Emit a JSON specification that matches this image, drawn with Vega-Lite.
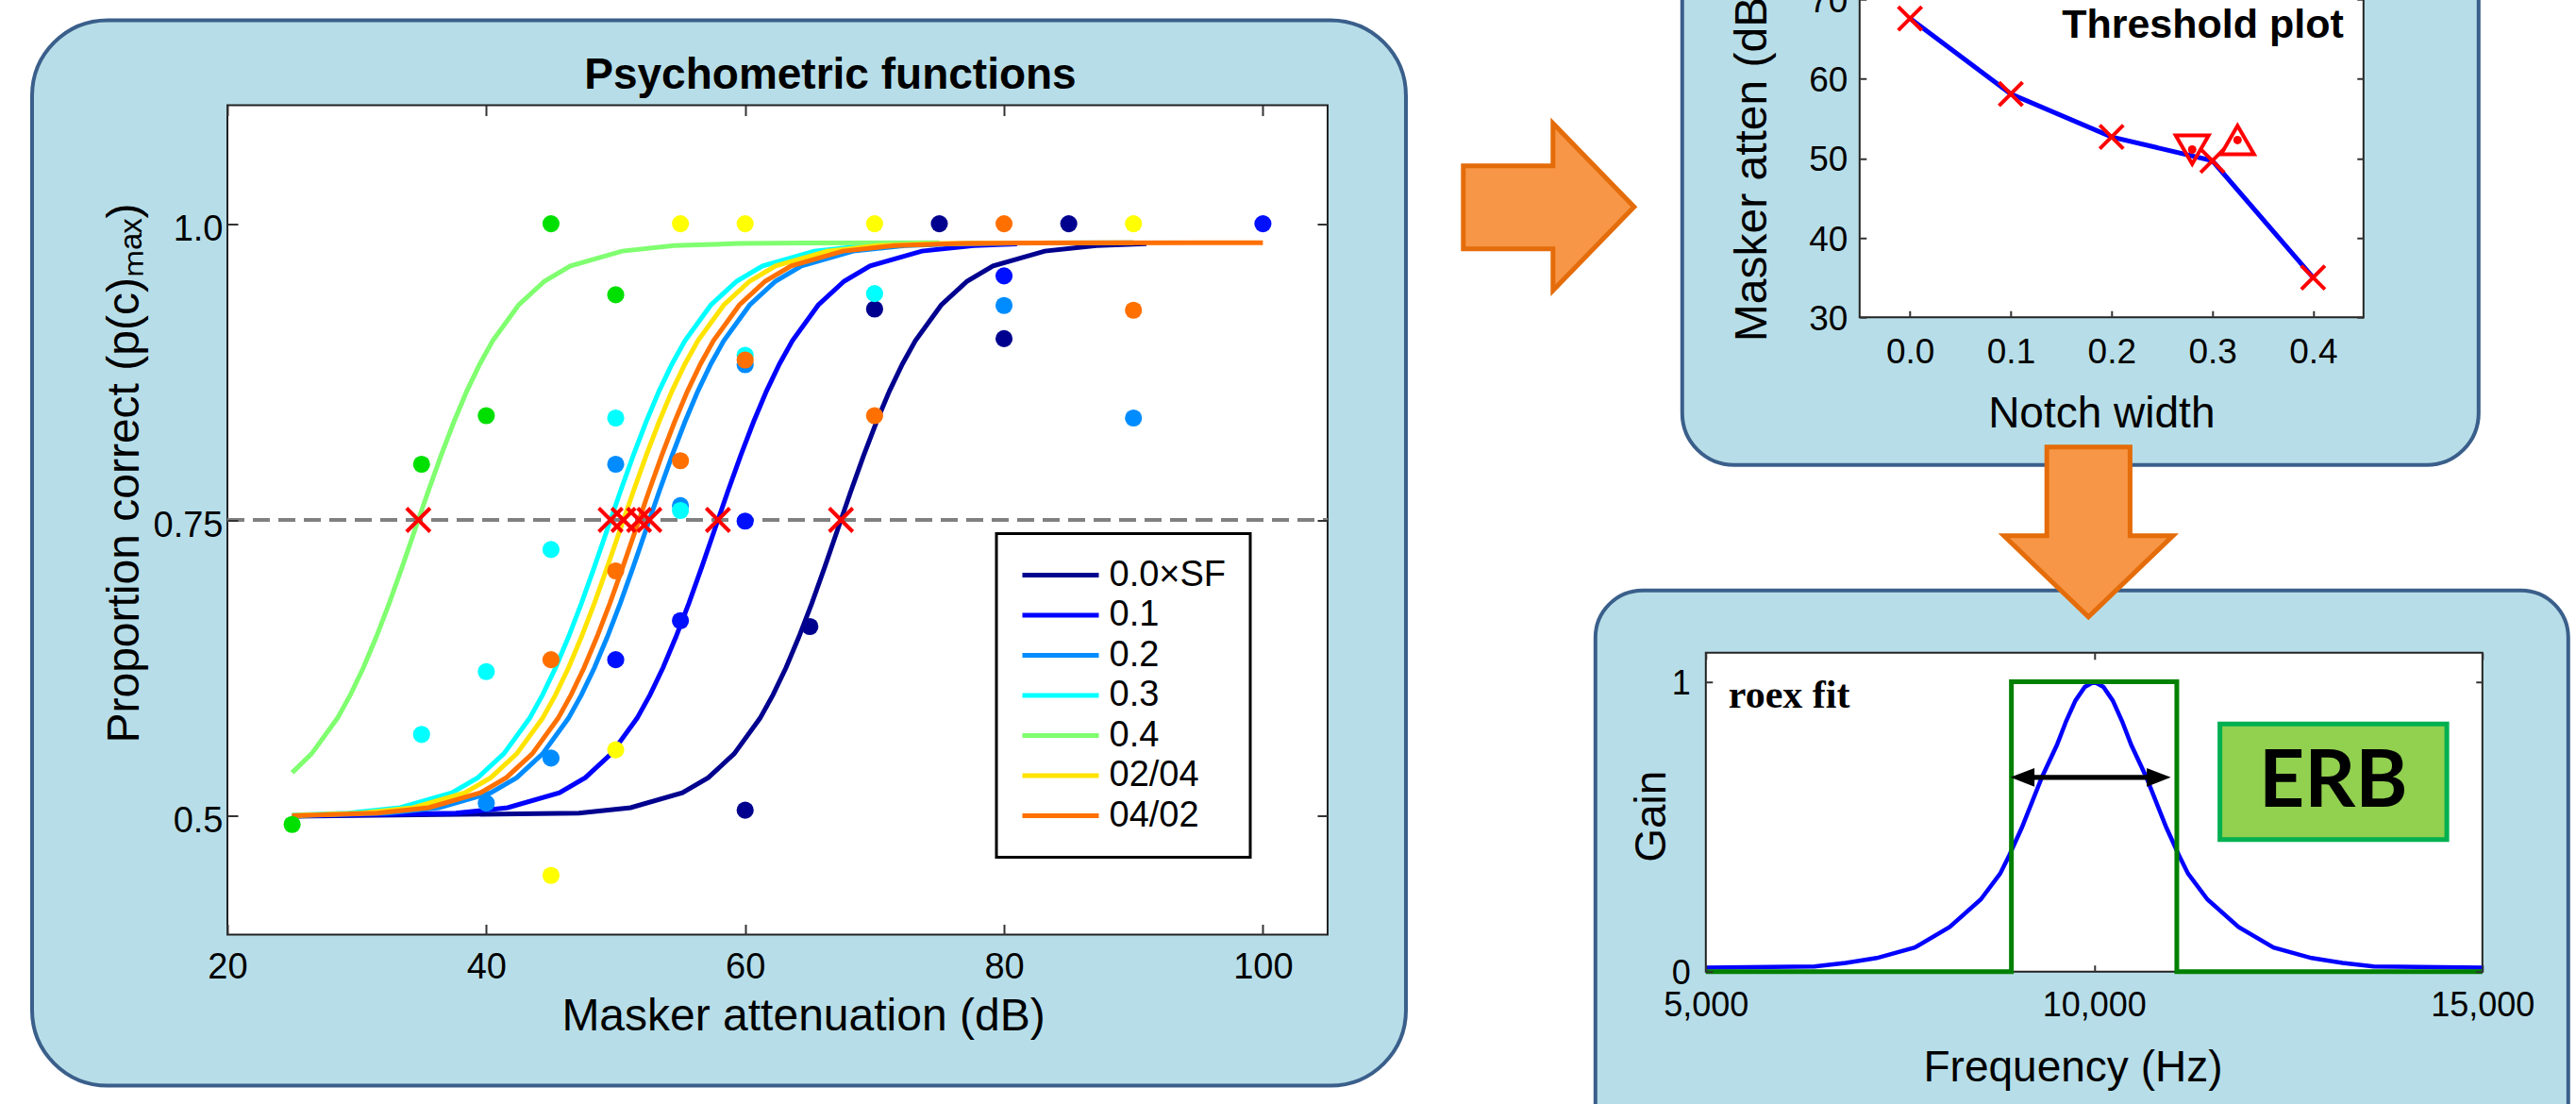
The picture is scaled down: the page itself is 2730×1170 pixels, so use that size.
{
  "$schema": "https://vega.github.io/schema/vega-lite/v6.json",
  "background": "white",
  "padding": {"left": 32, "top": -102, "right": 0, "bottom": 0},
  "bounds": "full",
  "center": true,
  "spacing": 47.8,
  "config": {
    "font": "Liberation Sans",
    "view": {"stroke": null},
    "axis": {"grid": false, "domain": false, "zindex": 1, "labelColor": "#000000", "titleColor": "#000000", "titleFontWeight": "normal", "tickColor": "#333333", "tickWidth": 2, "labelFlush": false, "labelOverlap": false, "labelFont": "Liberation Sans", "titleFont": "Liberation Sans"},
    "legend": {"strokeWidth": 3}
  },
  "datasets": {
    "curves": [
      {"cond":"0.0×SF","dB":25,"p":0.5},{"cond":"0.0×SF","dB":47.15,"p":0.5025},{"cond":"0.0×SF","dB":51.15,"p":0.5071},{"cond":"0.0×SF","dB":55.15,"p":0.5197},{"cond":"0.0×SF","dB":57.15,"p":0.5325},{"cond":"0.0×SF","dB":59.15,"p":0.5526},{"cond":"0.0×SF","dB":61.15,"p":0.5827},{"cond":"0.0×SF","dB":62.15,"p":0.6024},{"cond":"0.0×SF","dB":63.15,"p":0.6252},{"cond":"0.0×SF","dB":64.15,"p":0.6512},{"cond":"0.0×SF","dB":65.15,"p":0.6797},{"cond":"0.0×SF","dB":66.15,"p":0.7103},{"cond":"0.0×SF","dB":67.15,"p":0.742},{"cond":"0.0×SF","dB":68.15,"p":0.7737},{"cond":"0.0×SF","dB":69.15,"p":0.8043},{"cond":"0.0×SF","dB":70.15,"p":0.8328},{"cond":"0.0×SF","dB":71.15,"p":0.8588},{"cond":"0.0×SF","dB":72.15,"p":0.8816},{"cond":"0.0×SF","dB":73.15,"p":0.9013},{"cond":"0.0×SF","dB":75.15,"p":0.9314},{"cond":"0.0×SF","dB":77.15,"p":0.9515},{"cond":"0.0×SF","dB":79.15,"p":0.9643},{"cond":"0.0×SF","dB":83.15,"p":0.9769},{"cond":"0.0×SF","dB":87.15,"p":0.9815},{"cond":"0.0×SF","dB":91,"p":0.9831},
      {"cond":"0.1","dB":25,"p":0.5001},{"cond":"0.1","dB":37.65,"p":0.5025},{"cond":"0.1","dB":41.65,"p":0.5071},{"cond":"0.1","dB":45.65,"p":0.5197},{"cond":"0.1","dB":47.65,"p":0.5325},{"cond":"0.1","dB":49.65,"p":0.5526},{"cond":"0.1","dB":51.65,"p":0.5827},{"cond":"0.1","dB":52.65,"p":0.6024},{"cond":"0.1","dB":53.65,"p":0.6252},{"cond":"0.1","dB":54.65,"p":0.6512},{"cond":"0.1","dB":55.65,"p":0.6797},{"cond":"0.1","dB":56.65,"p":0.7103},{"cond":"0.1","dB":57.65,"p":0.742},{"cond":"0.1","dB":58.65,"p":0.7737},{"cond":"0.1","dB":59.65,"p":0.8043},{"cond":"0.1","dB":60.65,"p":0.8328},{"cond":"0.1","dB":61.65,"p":0.8588},{"cond":"0.1","dB":62.65,"p":0.8816},{"cond":"0.1","dB":63.65,"p":0.9013},{"cond":"0.1","dB":65.65,"p":0.9314},{"cond":"0.1","dB":67.65,"p":0.9515},{"cond":"0.1","dB":69.65,"p":0.9643},{"cond":"0.1","dB":73.65,"p":0.9769},{"cond":"0.1","dB":77.65,"p":0.9815},{"cond":"0.1","dB":81,"p":0.983},
      {"cond":"0.2","dB":25,"p":0.5004},{"cond":"0.2","dB":32.35,"p":0.5025},{"cond":"0.2","dB":36.35,"p":0.5071},{"cond":"0.2","dB":40.35,"p":0.5197},{"cond":"0.2","dB":42.35,"p":0.5325},{"cond":"0.2","dB":44.35,"p":0.5526},{"cond":"0.2","dB":46.35,"p":0.5827},{"cond":"0.2","dB":47.35,"p":0.6024},{"cond":"0.2","dB":48.35,"p":0.6252},{"cond":"0.2","dB":49.35,"p":0.6512},{"cond":"0.2","dB":50.35,"p":0.6797},{"cond":"0.2","dB":51.35,"p":0.7103},{"cond":"0.2","dB":52.35,"p":0.742},{"cond":"0.2","dB":53.35,"p":0.7737},{"cond":"0.2","dB":54.35,"p":0.8043},{"cond":"0.2","dB":55.35,"p":0.8328},{"cond":"0.2","dB":56.35,"p":0.8588},{"cond":"0.2","dB":57.35,"p":0.8816},{"cond":"0.2","dB":58.35,"p":0.9013},{"cond":"0.2","dB":60.35,"p":0.9314},{"cond":"0.2","dB":62.35,"p":0.9515},{"cond":"0.2","dB":64.35,"p":0.9643},{"cond":"0.2","dB":68.35,"p":0.9769},{"cond":"0.2","dB":72.35,"p":0.9815},{"cond":"0.2","dB":77.35,"p":0.9833},{"cond":"0.2","dB":82.35,"p":0.9838},{"cond":"0.2","dB":90,"p":0.984},
      {"cond":"0.3","dB":25,"p":0.5008},{"cond":"0.3","dB":29.35,"p":0.5025},{"cond":"0.3","dB":33.35,"p":0.5071},{"cond":"0.3","dB":37.35,"p":0.5197},{"cond":"0.3","dB":39.35,"p":0.5325},{"cond":"0.3","dB":41.35,"p":0.5526},{"cond":"0.3","dB":43.35,"p":0.5827},{"cond":"0.3","dB":44.35,"p":0.6024},{"cond":"0.3","dB":45.35,"p":0.6252},{"cond":"0.3","dB":46.35,"p":0.6512},{"cond":"0.3","dB":47.35,"p":0.6797},{"cond":"0.3","dB":48.35,"p":0.7103},{"cond":"0.3","dB":49.35,"p":0.742},{"cond":"0.3","dB":50.35,"p":0.7737},{"cond":"0.3","dB":51.35,"p":0.8043},{"cond":"0.3","dB":52.35,"p":0.8328},{"cond":"0.3","dB":53.35,"p":0.8588},{"cond":"0.3","dB":54.35,"p":0.8816},{"cond":"0.3","dB":55.35,"p":0.9013},{"cond":"0.3","dB":57.35,"p":0.9314},{"cond":"0.3","dB":59.35,"p":0.9515},{"cond":"0.3","dB":61.35,"p":0.9643},{"cond":"0.3","dB":65.35,"p":0.9769},{"cond":"0.3","dB":69.35,"p":0.9815},{"cond":"0.3","dB":74.35,"p":0.9833},{"cond":"0.3","dB":75,"p":0.9834},
      {"cond":"0.4","dB":25,"p":0.5367},{"cond":"0.4","dB":26.5,"p":0.5526},{"cond":"0.4","dB":28.5,"p":0.5827},{"cond":"0.4","dB":29.5,"p":0.6024},{"cond":"0.4","dB":30.5,"p":0.6252},{"cond":"0.4","dB":31.5,"p":0.6512},{"cond":"0.4","dB":32.5,"p":0.6797},{"cond":"0.4","dB":33.5,"p":0.7103},{"cond":"0.4","dB":34.5,"p":0.742},{"cond":"0.4","dB":35.5,"p":0.7737},{"cond":"0.4","dB":36.5,"p":0.8043},{"cond":"0.4","dB":37.5,"p":0.8328},{"cond":"0.4","dB":38.5,"p":0.8588},{"cond":"0.4","dB":39.5,"p":0.8816},{"cond":"0.4","dB":40.5,"p":0.9013},{"cond":"0.4","dB":42.5,"p":0.9314},{"cond":"0.4","dB":44.5,"p":0.9515},{"cond":"0.4","dB":46.5,"p":0.9643},{"cond":"0.4","dB":50.5,"p":0.9769},{"cond":"0.4","dB":54.5,"p":0.9815},{"cond":"0.4","dB":59.5,"p":0.9833},{"cond":"0.4","dB":64.5,"p":0.9838},{"cond":"0.4","dB":75,"p":0.984},
      {"cond":"02/04","dB":25,"p":0.5006},{"cond":"02/04","dB":30.35,"p":0.5025},{"cond":"02/04","dB":34.35,"p":0.5071},{"cond":"02/04","dB":38.35,"p":0.5197},{"cond":"02/04","dB":40.35,"p":0.5325},{"cond":"02/04","dB":42.35,"p":0.5526},{"cond":"02/04","dB":44.35,"p":0.5827},{"cond":"02/04","dB":45.35,"p":0.6024},{"cond":"02/04","dB":46.35,"p":0.6252},{"cond":"02/04","dB":47.35,"p":0.6512},{"cond":"02/04","dB":48.35,"p":0.6797},{"cond":"02/04","dB":49.35,"p":0.7103},{"cond":"02/04","dB":50.35,"p":0.742},{"cond":"02/04","dB":51.35,"p":0.7737},{"cond":"02/04","dB":52.35,"p":0.8043},{"cond":"02/04","dB":53.35,"p":0.8328},{"cond":"02/04","dB":54.35,"p":0.8588},{"cond":"02/04","dB":55.35,"p":0.8816},{"cond":"02/04","dB":56.35,"p":0.9013},{"cond":"02/04","dB":58.35,"p":0.9314},{"cond":"02/04","dB":60.35,"p":0.9515},{"cond":"02/04","dB":62.35,"p":0.9643},{"cond":"02/04","dB":66.35,"p":0.9769},{"cond":"02/04","dB":70.35,"p":0.9815},{"cond":"02/04","dB":75.35,"p":0.9833},{"cond":"02/04","dB":80.35,"p":0.9838},{"cond":"02/04","dB":90,"p":0.984},
      {"cond":"04/02","dB":25,"p":0.5004},{"cond":"04/02","dB":31.55,"p":0.5025},{"cond":"04/02","dB":35.55,"p":0.5071},{"cond":"04/02","dB":39.55,"p":0.5197},{"cond":"04/02","dB":41.55,"p":0.5325},{"cond":"04/02","dB":43.55,"p":0.5526},{"cond":"04/02","dB":45.55,"p":0.5827},{"cond":"04/02","dB":46.55,"p":0.6024},{"cond":"04/02","dB":47.55,"p":0.6252},{"cond":"04/02","dB":48.55,"p":0.6512},{"cond":"04/02","dB":49.55,"p":0.6797},{"cond":"04/02","dB":50.55,"p":0.7103},{"cond":"04/02","dB":51.55,"p":0.742},{"cond":"04/02","dB":52.55,"p":0.7737},{"cond":"04/02","dB":53.55,"p":0.8043},{"cond":"04/02","dB":54.55,"p":0.8328},{"cond":"04/02","dB":55.55,"p":0.8588},{"cond":"04/02","dB":56.55,"p":0.8816},{"cond":"04/02","dB":57.55,"p":0.9013},{"cond":"04/02","dB":59.55,"p":0.9314},{"cond":"04/02","dB":61.55,"p":0.9515},{"cond":"04/02","dB":63.55,"p":0.9643},{"cond":"04/02","dB":67.55,"p":0.9769},{"cond":"04/02","dB":71.55,"p":0.9815},{"cond":"04/02","dB":76.55,"p":0.9833},{"cond":"04/02","dB":81.55,"p":0.9838},{"cond":"04/02","dB":100,"p":0.984}
    ],
    "dots": [
      {"cond":"0.0×SF","dB":60,"p":0.505},{"cond":"0.0×SF","dB":65,"p":0.66},{"cond":"0.0×SF","dB":70,"p":0.928},{"cond":"0.0×SF","dB":75,"p":1.0},{"cond":"0.0×SF","dB":80,"p":0.903},{"cond":"0.0×SF","dB":85,"p":1.0},
      {"cond":"0.1","dB":50,"p":0.632},{"cond":"0.1","dB":55,"p":0.665},{"cond":"0.1","dB":60,"p":0.749},{"cond":"0.1","dB":80,"p":0.956},{"cond":"0.1","dB":100,"p":1.0},
      {"cond":"0.2","dB":40,"p":0.511},{"cond":"0.2","dB":45,"p":0.549},{"cond":"0.2","dB":50,"p":0.797},{"cond":"0.2","dB":55,"p":0.762},{"cond":"0.2","dB":60,"p":0.881},{"cond":"0.2","dB":80,"p":0.931},{"cond":"0.2","dB":90,"p":0.836},
      {"cond":"0.3","dB":35,"p":0.569},{"cond":"0.3","dB":40,"p":0.622},{"cond":"0.3","dB":45,"p":0.725},{"cond":"0.3","dB":50,"p":0.836},{"cond":"0.3","dB":55,"p":0.758},{"cond":"0.3","dB":60,"p":0.889},{"cond":"0.3","dB":70,"p":0.941},
      {"cond":"0.4","dB":25,"p":0.493},{"cond":"0.4","dB":35,"p":0.797},{"cond":"0.4","dB":40,"p":0.838},{"cond":"0.4","dB":45,"p":1.0},{"cond":"0.4","dB":50,"p":0.94},
      {"cond":"02/04","dB":45,"p":0.45},{"cond":"02/04","dB":50,"p":0.556},{"cond":"02/04","dB":55,"p":1.0},{"cond":"02/04","dB":60,"p":1.0},{"cond":"02/04","dB":70,"p":1.0},{"cond":"02/04","dB":90,"p":1.0},
      {"cond":"04/02","dB":45,"p":0.632},{"cond":"04/02","dB":50,"p":0.707},{"cond":"04/02","dB":55,"p":0.8},{"cond":"04/02","dB":60,"p":0.885},{"cond":"04/02","dB":70,"p":0.838},{"cond":"04/02","dB":80,"p":1.0},{"cond":"04/02","dB":90,"p":0.927}
    ],
    "cross": [
      {"cond":"0.4","dB":34.75,"p":0.75},{"cond":"0.3","dB":49.6,"p":0.75},{"cond":"02/04","dB":50.6,"p":0.75},{"cond":"04/02","dB":51.8,"p":0.75},{"cond":"0.2","dB":52.6,"p":0.75},{"cond":"0.1","dB":57.9,"p":0.75},{"cond":"0.0×SF","dB":67.4,"p":0.75}
    ],
    "tline": [
      {"nw":0.0,"thr":67.6},{"nw":0.1,"thr":58.1},{"nw":0.2,"thr":52.7},{"nw":0.3,"thr":49.7},{"nw":0.4,"thr":35.0}
    ],
    "ttri": [
      {"nw":0.28,"thr":51.1,"kind":"down"},{"nw":0.325,"thr":52.3,"kind":"up"}
    ],
    "roex": [
      {"f":5000,"g":0.014},{"f":6400,"g":0.018},{"f":6800,"g":0.03},{"f":7200,"g":0.047},{"f":7690,"g":0.083},{"f":8140,"g":0.154},{"f":8540,"g":0.249},{"f":8790,"g":0.338},{"f":8910,"g":0.403},{"f":9070,"g":0.497},{"f":9330,"g":0.672},{"f":9520,"g":0.781},{"f":9640,"g":0.864},{"f":9760,"g":0.935},{"f":9880,"g":0.982},{"f":10000,"g":1.0},{"f":10120,"g":0.982},{"f":10240,"g":0.935},{"f":10360,"g":0.864},{"f":10480,"g":0.781},{"f":10670,"g":0.672},{"f":10930,"g":0.497},{"f":11090,"g":0.403},{"f":11210,"g":0.338},{"f":11460,"g":0.249},{"f":11860,"g":0.154},{"f":12310,"g":0.083},{"f":12800,"g":0.047},{"f":13200,"g":0.03},{"f":13600,"g":0.018},{"f":15000,"g":0.014}
    ],
    "erbrect": [
      {"f":5000,"g":0,"i":0},{"f":8935,"g":0,"i":1},{"f":8935,"g":1,"i":2},{"f":11065,"g":1,"i":3},{"f":11065,"g":0,"i":4},{"f":15000,"g":0,"i":5}
    ],
    "one": [{"k": 1}]
  },
  "hconcat": [
    {
      "width": 1166,
      "height": 879,
      "resolve": {"scale": {"color": "independent"}, "axis": {"x": "independent", "y": "independent"}},
      "layer": [
        {"data": {"name": "one"}, "mark": {"type": "rect", "fill": "#B7DEE8", "stroke": "#3A5F8B", "strokeWidth": 4, "cornerRadius": 80},
         "encoding": {
           "x": {"datum": 4.91, "type": "quantitative", "scale": {"domain": [20, 105], "nice": false, "zero": false},
                 "axis": {"orient": "bottom", "zindex": 1, "title": "Masker attenuation (dB)", "values": [20, 40, 60, 80, 100], "labelFontSize": 38, "tickSize": -11, "labelPadding": 27, "titleFontSize": 48, "titleX": 610, "titleY": 101, "titleAlign": "center", "titleBaseline": "alphabetic"}},
           "x2": {"datum": 111.05},
           "y": {"datum": 1.1717, "type": "quantitative", "scale": {"domain": [0.4, 1.1], "nice": false, "zero": false},
                 "axis": {"orient": "left", "zindex": 1, "title": "Proportion correct (p(c)ₘₐₓ)", "values": [0.5, 0.75, 1.0], "labelExpr": "datum.value == 0.75 ? '0.75' : format(datum.value, '.1f')", "labelFontSize": 38, "tickSize": -11, "labelPadding": 16, "labelOffset": 6, "titleFontSize": 48, "titleX": -95, "titleY": 389.5, "titleAngle": 270, "titleAlign": "center", "titleBaseline": "alphabetic"}},
           "y2": {"datum": 0.2726}}},
        {"data": {"name": "one"}, "mark": {"type": "rect", "fill": "#FFFFFF", "stroke": "#222222", "strokeWidth": 2},
         "encoding": {
           "x": {"datum": 20, "type": "quantitative", "axis": {"orient": "top", "zindex": 1, "labels": false, "title": null, "values": [20, 40, 60, 80, 100], "tickSize": -11}}, "x2": {"datum": 105},
           "y": {"datum": 1.1, "type": "quantitative", "axis": {"orient": "right", "zindex": 1, "labels": false, "title": null, "values": [0.5, 0.75, 1.0], "tickSize": -11}}, "y2": {"datum": 0.4}}},
        {"data": {"name": "one"}, "mark": {"type": "rule", "stroke": "#808080", "strokeWidth": 4, "strokeDash": [18, 9]},
         "encoding": {
           "x": {"datum": 20, "type": "quantitative", "axis": null}, "x2": {"datum": 105},
           "y": {"datum": 0.75, "type": "quantitative", "axis": null}}},
        {"data": {"name": "curves"}, "mark": {"type": "line", "strokeWidth": 5},
         "encoding": {
           "x": {"field": "dB", "type": "quantitative", "axis": null},
           "y": {"field": "p", "type": "quantitative", "axis": null},
           "color": {"field": "cond", "type": "nominal",
             "scale": {"domain": ["0.0×SF", "0.1", "0.2", "0.3", "0.4", "02/04", "04/02"], "range": ["#00008F", "#0000FF", "#008CFF", "#00FFFF", "#80FF70", "#FFE400", "#FF7000"]},
             "legend": {"title": null, "orient": "bottom-right", "offset": 82, "symbolType": "stroke", "symbolSize": 6561, "symbolStrokeWidth": 5, "clipHeight": 38, "labelFontSize": 38, "labelOffset": 8.5, "rowPadding": 4.5, "padding": 25, "strokeColor": "#000000", "fillColor": "#FFFFFF", "labelColor": "#000000", "zindex": 2}}}},
        {"data": {"name": "dots"}, "mark": {"type": "circle", "size": 330, "opacity": 1},
         "encoding": {
           "x": {"field": "dB", "type": "quantitative", "axis": null},
           "y": {"field": "p", "type": "quantitative", "axis": null},
           "color": {"field": "cond", "type": "nominal",
             "scale": {"domain": ["0.0×SF", "0.1", "0.2", "0.3", "0.4", "02/04", "04/02"], "range": ["#00008F", "#0010FF", "#008CFF", "#00FFFF", "#00E000", "#FFFF00", "#FF7000"]},
             "legend": null}}},
        {"data": {"name": "cross"}, "mark": {"type": "point", "shape": "M-1,-1L1,1M-1,1L1,-1", "size": 625, "filled": false, "color": "#FF0000", "strokeWidth": 4, "opacity": 1},
         "encoding": {
           "x": {"field": "dB", "type": "quantitative", "axis": null},
           "y": {"field": "p", "type": "quantitative", "axis": null}}},
        {"data": {"name": "one"}, "mark": {"type": "text", "text": "Psychometric functions", "fontSize": 46, "fontWeight": "bold", "align": "center", "baseline": "alphabetic", "color": "#000000"},
         "encoding": {
           "x": {"datum": 66.58, "type": "quantitative", "axis": null},
           "y": {"datum": 1.1143, "type": "quantitative", "axis": null}}}
      ]
    },
    {
      "vconcat": [
        {
          "width": 571,
          "height": 379,
          "resolve": {"axis": {"x": "independent", "y": "independent"}},
          "layer": [
            {"data": {"name": "one"}, "mark": {"type": "rect", "fill": "#B7DEE8", "stroke": "#3A5F8B", "strokeWidth": 4, "cornerRadius": 55},
             "encoding": {
               "x": {"datum": -0.22603, "type": "quantitative", "scale": {"domain": [-0.08464, 0.45], "nice": false, "zero": false},
                     "axis": {"orient": "bottom", "zindex": 1, "title": "Notch width", "values": [0, 0.1, 0.2, 0.3, 0.4], "format": ".1f", "labelFontSize": 37, "tickSize": -7, "labelPadding": 26.5, "titleFontSize": 46, "titleX": 293, "titleY": 116.5, "titleAlign": "center", "titleBaseline": "alphabetic"}},
               "x2": {"datum": 0.56423},
               "y": {"datum": 81.708, "type": "quantitative", "scale": {"domain": [30, 75], "nice": false, "zero": false},
                     "axis": {"orient": "left", "zindex": 1, "title": "Masker atten (dB)", "values": [30, 40, 50, 60, 70], "format": "d", "labelFontSize": 37, "tickSize": -7, "labelPadding": 20, "labelOffset": 2, "offset": -37, "titleFontSize": 48, "titleX": -99.5, "titleY": 404.5, "titleAngle": 270, "titleAlign": "left", "titleBaseline": "alphabetic"}},
               "y2": {"datum": 11.418}}},
            {"data": {"name": "one"}, "mark": {"type": "point", "shape": "M-1,-0.481L0.05,-0.481L0.05,-0.978L1,0L0.05,0.978L0.05,0.492L-1,0.492Z", "size": 32761, "filled": true, "fill": "#F79646", "stroke": "#E46C0A", "strokeWidth": 5, "opacity": 1},
             "encoding": {
               "x": {"datum": -0.35852, "type": "quantitative", "axis": null},
               "y": {"datum": 43.892, "type": "quantitative", "axis": null}}},
            {"data": {"name": "one"}, "mark": {"type": "rect", "fill": "#FFFFFF", "stroke": "#222222", "strokeWidth": 2},
             "encoding": {
               "x": {"datum": -0.05, "type": "quantitative", "axis": null}, "x2": {"datum": 0.45},
               "y": {"datum": 75, "type": "quantitative", "axis": {"orient": "right", "zindex": 1, "labels": false, "title": null, "values": [30, 40, 50, 60, 70], "tickSize": -7}}, "y2": {"datum": 30}}},
            {"data": {"name": "tline"}, "mark": {"type": "line", "color": "#0000FF", "strokeWidth": 5},
             "encoding": {
               "x": {"field": "nw", "type": "quantitative", "axis": null},
               "y": {"field": "thr", "type": "quantitative", "axis": null}}},
            {"data": {"name": "tline"}, "mark": {"type": "point", "shape": "M-1,-1L1,1M-1,1L1,-1", "size": 625, "filled": false, "color": "#FF0000", "strokeWidth": 4, "opacity": 1},
             "encoding": {
               "x": {"field": "nw", "type": "quantitative", "axis": null},
               "y": {"field": "thr", "type": "quantitative", "axis": null}}},
            {"data": {"name": "ttri"}, "mark": {"type": "point", "size": 1225, "filled": false, "color": "#FF0000", "strokeWidth": 4, "opacity": 1},
             "encoding": {
               "x": {"field": "nw", "type": "quantitative", "axis": null},
               "y": {"field": "thr", "type": "quantitative", "axis": null},
               "shape": {"field": "kind", "type": "nominal", "scale": {"domain": ["down", "up"], "range": ["triangle-down", "triangle-up"]}, "legend": null}}},
            {"data": {"name": "ttri"}, "mark": {"type": "circle", "size": 80, "color": "#FF0000", "opacity": 1},
             "encoding": {
               "x": {"field": "nw", "type": "quantitative", "axis": null},
               "y": {"field": "thr", "type": "quantitative", "axis": null}}},
            {"data": {"name": "one"}, "mark": {"type": "text", "text": "Threshold plot", "font": "Liberation Sans", "fontSize": 43, "fontWeight": "bold", "align": "right", "baseline": "alphabetic", "color": "#000000"},
             "encoding": {
               "x": {"datum": 0.4303, "type": "quantitative", "axis": null},
               "y": {"datum": 65.17, "type": "quantitative", "axis": null}}}
          ]
        },
        {
          "width": 823,
          "height": 338,
          "resolve": {"axis": {"x": "independent", "y": "independent"}},
          "layer": [
            {"data": {"name": "one"}, "mark": {"type": "rect", "fill": "#B7DEE8", "stroke": "#3A5F8B", "strokeWidth": 4, "cornerRadius": 50},
             "encoding": {
               "x": {"datum": 3578.4, "type": "quantitative", "scale": {"domain": [5000, 15000], "nice": false, "zero": false},
                     "axis": {"orient": "bottom", "zindex": 1, "title": "Frequency (Hz)", "values": [5000, 10000, 15000], "format": ",.0f", "labelFontSize": 36, "tickSize": -7, "labelPadding": 26, "titleFontSize": 46, "titleX": 388.7, "titleY": 116, "titleAlign": "center", "titleBaseline": "alphabetic"}},
               "x2": {"datum": 16105.7},
               "y": {"datum": 1.31479, "type": "quantitative", "scale": {"domain": [0, 1.1], "nice": false, "zero": false},
                     "axis": {"orient": "left", "zindex": 1, "title": "Gain", "values": [0, 1], "format": "d", "labelFontSize": 36, "tickSize": -7, "labelPadding": 23.5, "labelOffset": 2, "titleFontSize": 46, "titleX": -43, "titleY": 173, "titleAngle": 270, "titleAlign": "center", "titleBaseline": "alphabetic"}},
               "y2": {"datum": -0.895}}},
            {"data": {"name": "one"}, "mark": {"type": "point", "shape": "M-0.49,-1L0.49,-1L0.49,0.045L0.995,0.045L0,1L-0.995,0.045L-0.49,0.045Z", "size": 32400, "filled": true, "fill": "#F79646", "stroke": "#E46C0A", "strokeWidth": 5, "opacity": 1},
             "encoding": {
               "x": {"datum": 9927.1, "type": "quantitative", "axis": null},
               "y": {"datum": 1.51657, "type": "quantitative", "axis": null}}},
            {"data": {"name": "one"}, "mark": {"type": "rect", "fill": "#FFFFFF", "stroke": "#222222", "strokeWidth": 2},
             "encoding": {
               "x": {"datum": 5000, "type": "quantitative", "axis": {"orient": "top", "zindex": 1, "labels": false, "title": null, "values": [5000, 10000, 15000], "tickSize": -7}}, "x2": {"datum": 15000},
               "y": {"datum": 1.1, "type": "quantitative", "axis": {"orient": "right", "zindex": 1, "labels": false, "title": null, "values": [0, 1], "tickSize": -7}}, "y2": {"datum": 0}}},
            {"data": {"name": "roex"}, "mark": {"type": "line", "color": "#0000FF", "strokeWidth": 4.5},
             "encoding": {
               "x": {"field": "f", "type": "quantitative", "axis": null},
               "y": {"field": "g", "type": "quantitative", "axis": null}}},
            {"data": {"name": "erbrect"}, "mark": {"type": "line", "color": "#008000", "strokeWidth": 5},
             "encoding": {
               "x": {"field": "f", "type": "quantitative", "axis": null},
               "y": {"field": "g", "type": "quantitative", "axis": null},
               "order": {"field": "i", "type": "quantitative"}}},
            {"data": {"name": "one"}, "mark": {"type": "rect", "fill": "#92D050", "stroke": "#00B050", "strokeWidth": 5},
             "encoding": {
               "x": {"datum": 11620, "type": "quantitative", "axis": null}, "x2": {"datum": 14542},
               "y": {"datum": 0.8543, "type": "quantitative", "axis": null}, "y2": {"datum": 0.4556}}},
            {"data": {"name": "one"}, "mark": {"type": "text", "text": "ERB", "font": "Lato", "fontSize": 84, "fontWeight": "bold", "align": "center", "baseline": "middle", "color": "#000000"},
             "encoding": {
               "x": {"datum": 13080, "type": "quantitative", "axis": null},
               "y": {"datum": 0.649, "type": "quantitative", "axis": null}}},
            {"data": {"name": "one"}, "mark": {"type": "point", "shape": "M-1,0L-0.7,-0.115L-0.7,-0.03L0.7,-0.03L0.7,-0.115L1,0L0.7,0.115L0.7,0.03L-0.7,0.03L-0.7,0.115Z", "size": 28900, "filled": true, "fill": "#000000", "strokeWidth": 0, "opacity": 1},
             "encoding": {
               "x": {"datum": 9955, "type": "quantitative", "axis": null},
               "y": {"datum": 0.67, "type": "quantitative", "axis": null}}},
            {"data": {"name": "one"}, "mark": {"type": "text", "text": "roex fit", "font": "Liberation Serif", "fontSize": 42, "fontWeight": "bold", "align": "left", "baseline": "alphabetic", "color": "#000000"},
             "encoding": {
               "x": {"datum": 5292, "type": "quantitative", "axis": null},
               "y": {"datum": 0.911, "type": "quantitative", "axis": null}}}
          ]
        }
      ],
      "bounds": "flush",
      "center": true,
      "spacing": 355.5
    }
  ]
}
